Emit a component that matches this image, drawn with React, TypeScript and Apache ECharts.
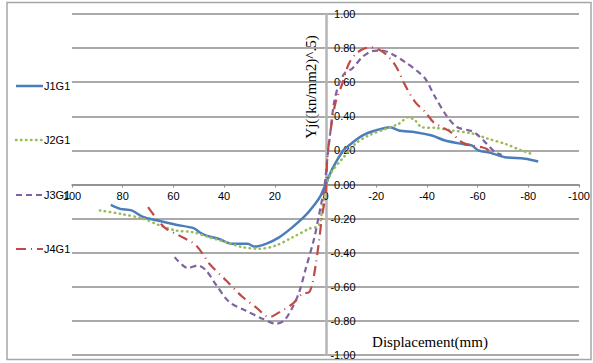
import React, { useEffect, useRef } from "react";
import * as echarts from "echarts";

const xTicks = { min: -100, max: 100, interval: 20 };
const yTicks = { min: -1, max: 1, interval: 0.2 };
const seriesNames = ["J1G1", "J2G1", "J3G1", "J4G1"];

const J1G1: number[][] = [
  [84.7, -0.12], [81, -0.143], [76.5, -0.152], [72, -0.19], [66.7, -0.21], [59, -0.236],
  [52, -0.256], [49.7, -0.28], [47, -0.3], [42, -0.32], [36.6, -0.348], [30.7, -0.348],
  [28, -0.364], [23.5, -0.348], [18.3, -0.31], [13, -0.25], [7.8, -0.18], [3.9, -0.11],
  [1.9, -0.065], [0, 0], [-3, 0.1], [-7, 0.2], [-9.2, 0.229], [-14.5, 0.287], [-19.7, 0.317],
  [-25.6, 0.336], [-28.9, 0.317], [-35.4, 0.307], [-42, 0.287], [-47.2, 0.258], [-55, 0.235],
  [-57.7, 0.229], [-60.3, 0.2], [-65.5, 0.184], [-70.8, 0.16], [-78.7, 0.151], [-83.9, 0.135],
];

const J2G1: number[][] = [
  [89, -0.152], [81, -0.172], [72, -0.2], [65.4, -0.24], [59, -0.27], [52.3, -0.28],
  [45.8, -0.31], [39.2, -0.338], [32.7, -0.368], [26, -0.377], [19.6, -0.358], [13, -0.31],
  [6.5, -0.26], [2.6, -0.24], [1.3, -0.143], [0.3, -0.05], [-0.7, 0.013], [-2.7, 0.08],
  [-6.6, 0.15], [-11.9, 0.24], [-17, 0.287], [-23.7, 0.326], [-28.9, 0.356], [-32.8, 0.395],
  [-35.4, 0.375], [-38, 0.336], [-43.3, 0.332], [-49.8, 0.317], [-57.7, 0.3], [-64.2, 0.268],
  [-70.8, 0.239], [-77.3, 0.2], [-82, 0.176],
];

const J3G1: number[][] = [
  [59.5, -0.426], [54.3, -0.49], [50.4, -0.475], [47.1, -0.504], [43.1, -0.59], [37.9, -0.69],
  [31.4, -0.74], [24.8, -0.788], [19.6, -0.817], [16.3, -0.798], [13, -0.72], [10.4, -0.632],
  [7.8, -0.494], [4.5, -0.318], [2.6, -0.182], [1.3, -0.084], [0.3, 0], [-0.7, 0.15],
  [-2, 0.317], [-3.3, 0.473], [-5.3, 0.59], [-7.9, 0.659], [-10.5, 0.679], [-14.5, 0.747],
  [-18.4, 0.782], [-22.3, 0.786], [-26.2, 0.766], [-31.5, 0.717], [-36.7, 0.659], [-39.4, 0.62],
  [-43.3, 0.512], [-47.9, 0.4], [-52, 0.336], [-57.7, 0.313], [-60.3, 0.287], [-63.6, 0.239],
  [-66.9, 0.19], [-69.5, 0.174],
];

const J4G1: number[][] = [
  [70, -0.133], [66.1, -0.21], [62.8, -0.26], [57.6, -0.3], [51, -0.358], [45.8, -0.465],
  [39.2, -0.563], [32.7, -0.66], [27.4, -0.72], [22.2, -0.778], [18.3, -0.75], [13, -0.7],
  [9.1, -0.64], [6.5, -0.632], [5.2, -0.583], [3.9, -0.475], [2.6, -0.338], [1.3, -0.18],
  [0.2, -0.084], [-0.3, 0], [-0.7, 0.15], [-2, 0.317], [-4, 0.483], [-6.6, 0.59], [-9.2, 0.708],
  [-11.9, 0.766], [-15.1, 0.796], [-17.8, 0.805], [-20.4, 0.796], [-23.7, 0.766], [-27.6, 0.698],
  [-31.5, 0.58], [-35.4, 0.483], [-39.4, 0.424], [-42.6, 0.365], [-45.9, 0.336], [-49.2, 0.31],
  [-53.8, 0.248], [-57.7, 0.229], [-61.6, 0.219], [-63.6, 0.209], [-66, 0.175],
];

const seriesData = [J1G1, J2G1, J3G1, J4G1];
const colors = ["#4A7EBB", "#9BBB59", "#7F63A1", "#BE4B48"];
const lineTypes: any[] = ["solid", [0.5, 4.5], [6, 4], [10, 5, 1, 5]];
const lineWidths = [2.5, 2.5, 2.2, 2.2];
const legendRowsY = [86, 140, 195, 249];

export default function App() {
  const ref = useRef<HTMLDivElement>(null);
  useEffect(() => {
    if (!ref.current) return;
    const chart = echarts.init(ref.current, null, { renderer: "svg" });
    const sans = "Liberation Sans";
    const gridLeft = 72;
    const gridRight = 12;
    const gridTop = 14;
    const gridBottom = 8;
    const plotW = 593 - gridLeft - gridRight;
    const plotH = 363 - gridTop - gridBottom;
    // axis positions at the zero of the other axis
    const yZeroShift = (plotW * (0 - xTicks.max)) / (xTicks.min - xTicks.max); // x=0 from left (inverse axis)
    const xZeroShift = (plotH * (0 - yTicks.min)) / (yTicks.max - yTicks.min); // y=0 from bottom

    const legendGraphics: any[] = [];
    seriesNames.forEach((name, i) => {
      const y = legendRowsY[i];
      const t = lineTypes[i];
      legendGraphics.push({
        type: "line",
        silent: true,
        shape: { x1: 16, y1: y, x2: 43, y2: y },
        style: {
          stroke: colors[i],
          lineWidth: lineWidths[i],
          lineDash: t === "solid" ? null : t,
          lineCap: i === 1 ? "round" : "butt",
        },
      });
      legendGraphics.push({
        type: "text",
        x: 44,
        y: y,
        style: {
          text: name,
          font: `11px "${sans}"`,
          fill: "#000",
          align: "left",
          verticalAlign: "middle",
        },
      });
    });

    chart.setOption({
      animation: false,
      backgroundColor: "#ffffff",
      grid: { left: gridLeft, right: gridRight, top: gridTop, bottom: gridBottom, containLabel: false },
      xAxis: {
        type: "value",
        min: xTicks.min,
        max: xTicks.max,
        interval: xTicks.interval,
        inverse: true,
        position: "bottom",
        offset: -xZeroShift,
        axisLine: { onZero: false, lineStyle: { color: "#8c8c8c", width: 1.5 } },
        axisTick: { show: true, length: 3, lineStyle: { color: "#8c8c8c" } },
        axisLabel: {
          margin: 6,
          fontSize: 11,
          fontFamily: sans,
          color: "#000",
          formatter: (v: number) => String(v),
        },
        splitLine: { show: false },
      },
      yAxis: {
        type: "value",
        min: yTicks.min,
        max: yTicks.max,
        interval: yTicks.interval,
        position: "left",
        offset: -yZeroShift,
        axisLine: { onZero: false, lineStyle: { color: "#b5b5b5", width: 2.5 } },
        axisTick: { show: true, length: 3, lineStyle: { color: "#b5b5b5" } },
        axisLabel: {
          inside: true,
          align: "right",
          margin: 29,
          fontSize: 11,
          fontFamily: sans,
          color: "#000",
          formatter: (v: number) => v.toFixed(2),
        },
        splitLine: { show: true, lineStyle: { color: "#8c8c8c", width: 1.5 } },
      },
      series: seriesNames.map((name, i) => ({
        name,
        type: "line",
        data: seriesData[i],
        smooth: 0.3,
        showSymbol: false,
        symbol: "none",
        color: colors[i],
        lineStyle: {
          color: colors[i],
          width: lineWidths[i],
          type: lineTypes[i],
          cap: i === 1 ? "round" : "butt",
        },
        z: 3 + i,
      })),
      graphic: [
        {
          type: "rect",
          silent: true,
          shape: { x: 7, y: 2.5, width: 584, height: 357 },
          style: { fill: "none", stroke: "#a6a6a6", lineWidth: 1.5 },
        },
        ...legendGraphics,
        {
          type: "text",
          x: 311,
          y: 87,
          rotation: Math.PI / 2,
          style: {
            text: "Yj((kn/mm2)^.5)",
            font: '15px "Liberation Serif"',
            fill: "#000",
            align: "center",
            verticalAlign: "middle",
          },
        },
        {
          type: "text",
          x: 430,
          y: 342,
          style: {
            text: "Displacement(mm)",
            font: '15px "Liberation Serif"',
            fill: "#000",
            align: "center",
            verticalAlign: "middle",
          },
        },
      ],
    });
    return () => chart.dispose();
  }, []);
  return (
    <div
      ref={ref}
      style={{ position: "absolute", left: 0, top: 0, width: 593, height: 363 }}
    />
  );
}
